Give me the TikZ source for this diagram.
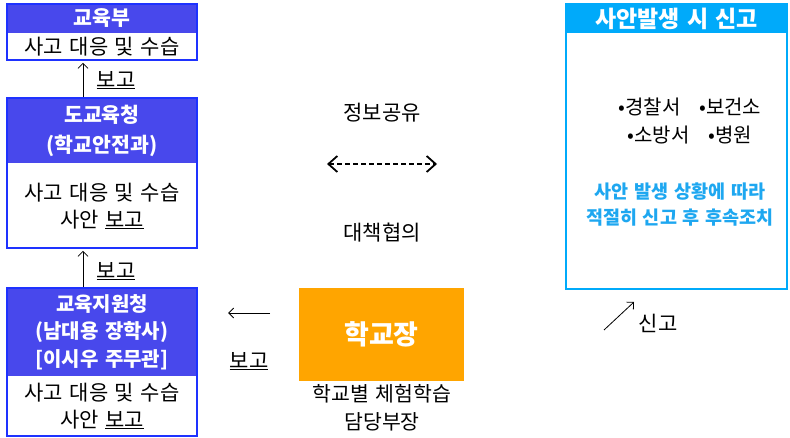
\documentclass[tikz,border=0pt]{standalone}
\usepackage{fontspec}
\setmainfont{Noto Sans CJK KR}[WordSpace=1.4]
\usetikzlibrary{arrows.meta}
\definecolor{hdrblue}{RGB}{72,72,236}
\definecolor{brdblue}{RGB}{30,50,255}
\definecolor{skyblue}{RGB}{0,170,250}
\definecolor{txtblue}{RGB}{30,167,240}
\definecolor{orangebox}{RGB}{255,165,0}
\begin{document}
\begin{tikzpicture}[x=1pt,y=-1pt,
  frame/.style={draw=brdblue,line width=1.6pt,inner sep=0pt},
  hdr/.style={fill=hdrblue,inner sep=0pt,text=white,font=\fontsize{20.5}{30}\selectfont\bfseries,align=center},
  body/.style={inner sep=0pt,font=\fontsize{21}{27}\selectfont,align=center},
  lbl/.style={inner sep=0pt,font=\fontsize{21}{28}\selectfont,align=center},
  arr/.style={-{Straight Barb[length=5pt,width=10pt]},line width=0.8pt}]
\useasboundingbox (0,0) rectangle (790,438);
% box 1
\node[hdr,minimum width=190pt,minimum height=29pt] (h1) at (102,18.5) {교육부};
\node[body] (b1) at (102,46.5) {사고 대응 및 수습};
\node[frame,minimum width=190pt,minimum height=56pt] (f1) at (102,32) {};
% box 2
\node[hdr,minimum width=190pt,minimum height=65pt] (h2) at (102,130.5) {도교육청\\(학교안전과)};
\node[body] (b2) at (102,206) {사고 대응 및 수습\\사안 \underline{보고}};
\node[frame,minimum width=190pt,minimum height=150pt] (f2) at (102,173) {};
% box 3
\node[hdr,minimum width=190pt,minimum height=88pt,font=\fontsize{20}{27.5}\selectfont\bfseries] (h3) at (102,332) {교육지원청\\(남대용 장학사)\\{[}이시우 주무관{]}};
\node[body] (b3) at (102,406) {사고 대응 및 수습\\사안 \underline{보고}};
\node[frame,minimum width=190pt,minimum height=148pt] (f3) at (102,362) {};
% arrows left column
\draw[arr] ([xshift=-19pt]f2.north) -- ([xshift=-19pt,yshift=-2pt]f1.south);
\node[lbl] (l1) at (116,80) {\underline{보고}};
\draw[arr] ([xshift=-19pt]f3.north) -- ([xshift=-19pt,yshift=-2pt]f2.south);
\node[lbl] (l2) at (116,271) {\underline{보고}};
% middle
\node[lbl] (m1) at (382,113) {정보공유};
\coordinate (dl) at (327,164);
\coordinate (dr) at (437,164);
\draw[dashed,line width=1.2pt,dash pattern=on 5pt off 3pt,{Straight Barb[length=9pt,width=16pt,line width=1.8pt]}-{Straight Barb[length=9pt,width=16pt,line width=1.8pt]}] (dl) -- (dr);
\node[lbl] (m2) at (382,233) {대책협의};
% school principal
\node[fill=orangebox,minimum width=165pt,minimum height=93pt,inner sep=0pt,text=white,font=\fontsize{27}{30}\selectfont\bfseries] (sp) at (381.5,334.5) {학교장};
\node[lbl,font=\fontsize{20.5}{28}\selectfont] (sd) at (382,408) {학교별 체험학습\\담당부장};
\coordinate (rs) at (270,313);
\coordinate (ra) at (228,313);
\draw[arr,line width=0.9pt] (rs) -- (ra);
\node[lbl] (rl) at (249,361) {\underline{보고}};
% right box
\node[fill=skyblue,minimum width=221pt,minimum height=29pt,inner sep=0pt,text=white,font=\fontsize{23}{24}\selectfont\bfseries] (h4) at (676.5,18.5) {사안발생 시 신고};
\node[draw=skyblue,line width=1.6pt,minimum width=221pt,minimum height=285pt,inner sep=0pt] (f4) at (676.5,146.5) {};
\node[lbl,font=\fontsize{20}{28}\selectfont] (items) at (690,121) {•경찰서 \ \ •보건소\\•소방서 \ \ •병원};
\node[lbl,text=txtblue,font=\fontsize{18.5}{26}\selectfont\bfseries] (note) at (680,205) {사안 발생 상황에 따라\\적절히 신고 후 후속조치};
\coordinate (sa) at (604,330);
\coordinate (sb) at (634,302);
\draw[arr] (sa) -- (sb);
\node[lbl] (sl) at (658,323) {신고};
\end{tikzpicture}
\end{document}
